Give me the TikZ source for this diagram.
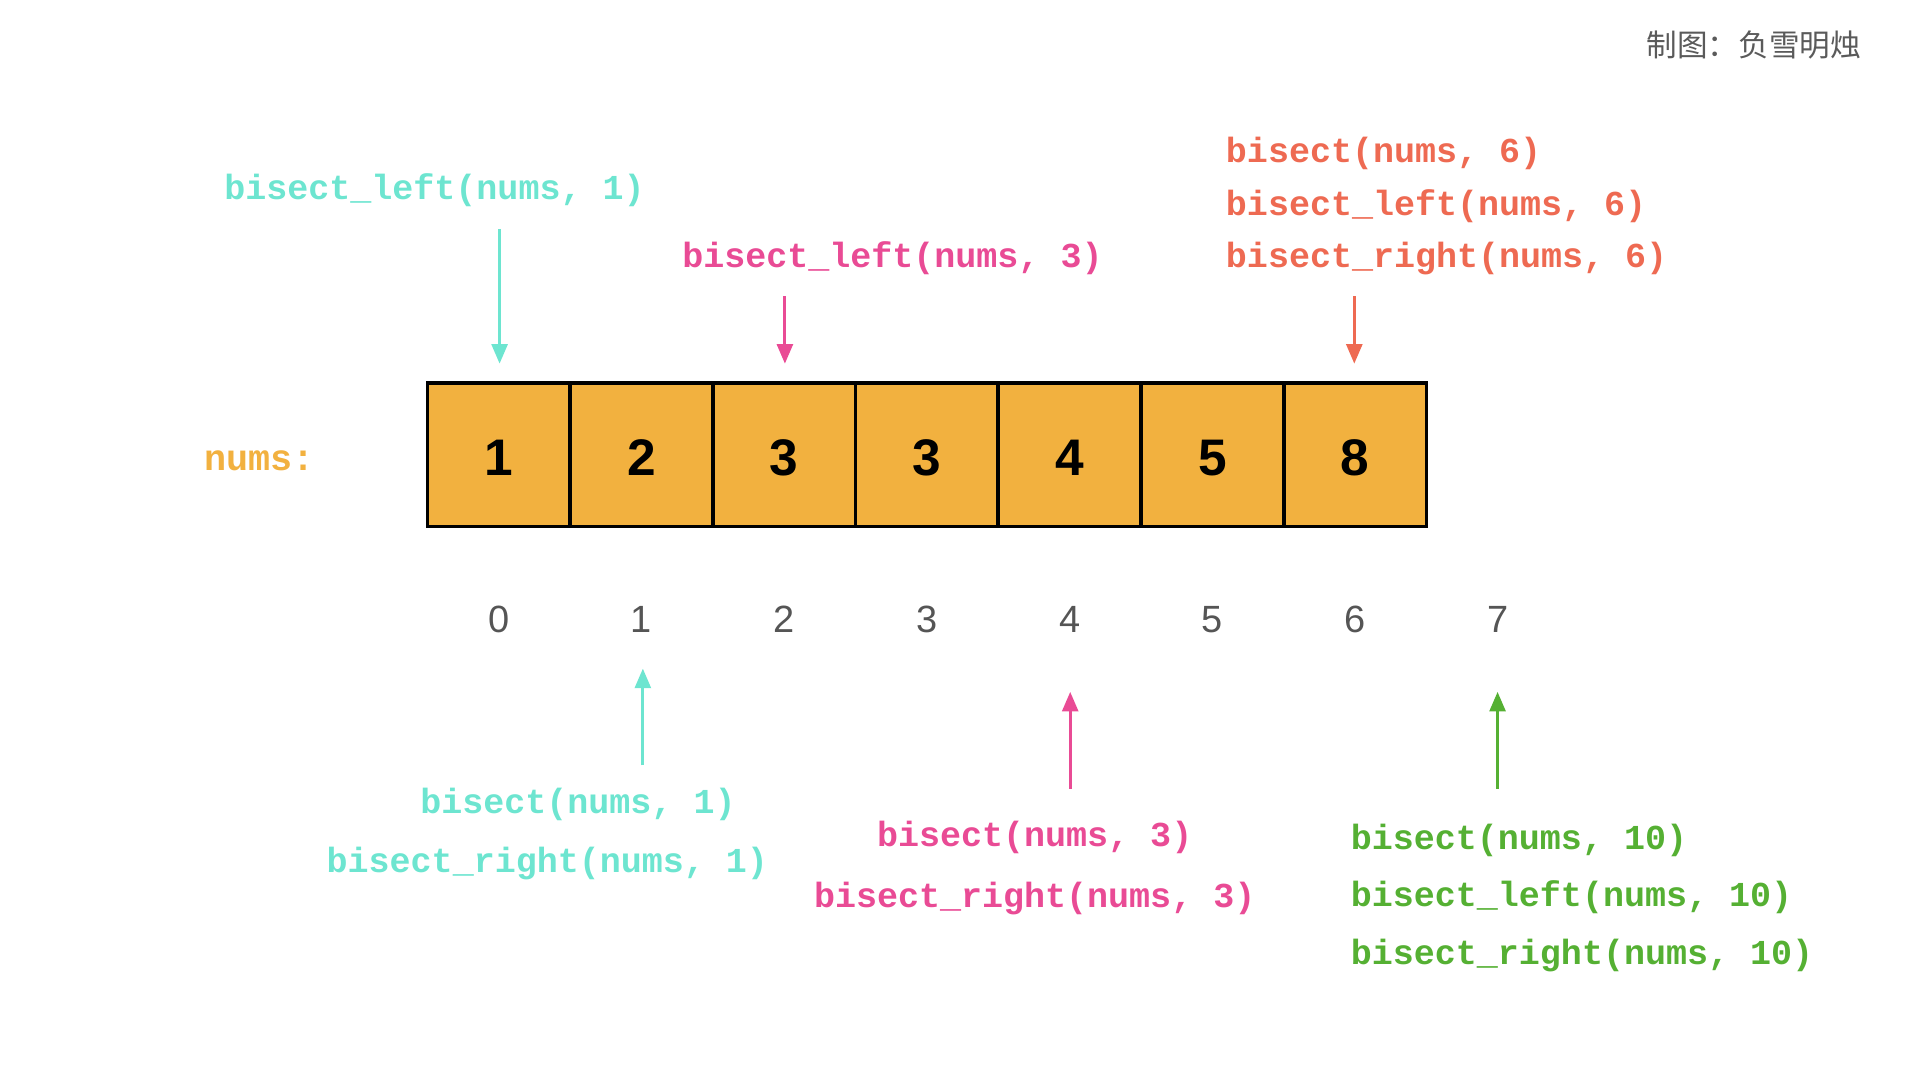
\documentclass[tikz,border=0pt]{standalone}
\usepackage{fontspec}
\setmainfont{Liberation Sans}
\newfontfamily\codefont{Liberation Mono}
\newfontfamily\cjk{Noto Sans CJK SC}
\usetikzlibrary{arrows.meta}
\definecolor{cteal}{HTML}{6DE5D0}
\definecolor{cpink}{HTML}{E94B95}
\definecolor{cred}{HTML}{EE6A52}
\definecolor{cgreen}{HTML}{55B033}
\definecolor{cbox}{HTML}{F2B13F}
\definecolor{cgray}{HTML}{555555}
\definecolor{cnote}{HTML}{5A5A5A}
\begin{document}
\begin{tikzpicture}[x=1pt,y=-1pt,
  code/.style={inner sep=0pt,anchor=west,font=\codefont\bfseries\fontsize{28.6}{32}\selectfont},
  codec/.style={code,anchor=center},
  cell/.style={draw=black,line width=3pt,fill=cbox,minimum width=116.57pt,minimum height=117pt,inner sep=0pt},
  digit/.style={inner sep=0pt,font=\bfseries\fontsize{42}{46}\selectfont},
  idx/.style={inner sep=0pt,text=cgray,font=\fontsize{31}{34}\selectfont},
  ptr/.style={line width=2.4pt,-{Triangle[length=16pt,width=13pt]}}]
\useasboundingbox (0,0) rectangle (1568,882);
% note
\node[inner sep=0pt,anchor=east,text=cnote,font=\cjk\fontsize{25}{28}\selectfont] (note) at (1520,37) {制图：负雪明烛};
% array
\node[inner sep=0pt,anchor=west,text=cbox,font=\codefont\bfseries\fontsize{30}{34}\selectfont] (lbl) at (167,376) {nums:};
\foreach \v [count=\i from 0] in {1,2,3,3,4,5,8}{
  \node[cell] (c\i) at ({349+58.29+116.57*\i},371.5) {};
  \node[digit] (d\i) at ({349+58.29+116.57*\i},374) {\v};
}
\foreach \i in {0,...,7}{
  \node[idx] (i\i) at ({407.3+116.57*\i},506) {\i};
}
% top labels
\node[code,text=cteal] (t1) at (183,155) {bisect\_left(nums, 1)};
\node[code,text=cpink] (t3) at (557,211) {bisect\_left(nums, 3)};
\node[code,text=cred] (t6a) at (1001,125) {bisect(nums, 6)};
\node[code,text=cred] (t6b) at (1001,168) {bisect\_left(nums, 6)};
\node[code,text=cred] (t6c) at (1001,211) {bisect\_right(nums, 6)};
% bottom labels
\node[codec,text=cteal] (b1a) at (472,657) {bisect(nums, 1)};
\node[codec,text=cteal] (b1b) at (447,705) {bisect\_right(nums, 1)};
\node[codec,text=cpink] (b3a) at (845,684) {bisect(nums, 3)};
\node[codec,text=cpink] (b3b) at (845,734) {bisect\_right(nums, 3)};
\node[code,text=cgreen] (b10a) at (1103,686) {bisect(nums, 10)};
\node[code,text=cgreen] (b10b) at (1103,733) {bisect\_left(nums, 10)};
\node[code,text=cgreen] (b10c) at (1103,780) {bisect\_right(nums, 10)};
% arrow ends
\coordinate (p1s) at (408,187); \coordinate (p1e) at (408,297);
\coordinate (p3s) at (641,242); \coordinate (p3e) at (641,297);
\coordinate (p6s) at (1106,242); \coordinate (p6e) at (1106,297);
\coordinate (q1s) at (525,625); \coordinate (q1e) at (525,546);
\coordinate (q3s) at (874,644); \coordinate (q3e) at (874,565);
\coordinate (q7s) at (1223,644); \coordinate (q7e) at (1223,565);
\draw[ptr,cteal] (p1s) -- (p1e);
\draw[ptr,cpink] (p3s) -- (p3e);
\draw[ptr,cred] (p6s) -- (p6e);
\draw[ptr,cteal] (q1s) -- (q1e);
\draw[ptr,cpink] (q3s) -- (q3e);
\draw[ptr,cgreen] (q7s) -- (q7e);
\end{tikzpicture}
\end{document}
